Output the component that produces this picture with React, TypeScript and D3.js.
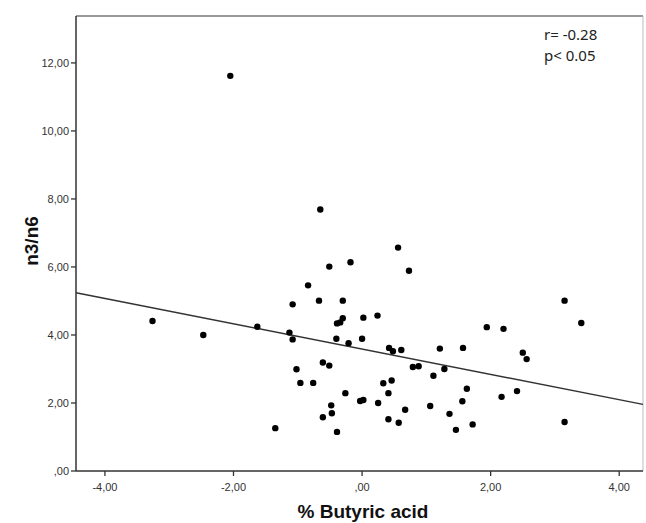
import React from "react";
import * as d3 from "d3";

const xValues = [
  -2.05, -3.26, -2.47, -1.63, -1.13, -1.08, -0.65, 0.56, 0.73, -0.18,
  -0.51, -0.84, -1.08, -0.67, -0.30, -0.30, 0.02, 0.24, -0.39, -0.34,
  -0.40, -0.21, 0.0, 0.42, 0.48, 0.61, 1.21, 1.57, 1.94, 2.20,
  2.50, 2.56, 3.15, 3.41, 3.15, -0.61, -0.51, -1.02, -0.96, -0.76,
  0.79, 0.88, 1.11, 1.28, 0.33, 0.46, -0.26, 0.41, 1.63, 2.41,
  -0.03, 0.02, 0.25, 1.56, 2.17, -0.48, -0.47, -0.61, 0.67, 1.06,
  0.41, 0.57, 1.36, -1.35, -0.39, 1.46, 1.72,
];
const yValues = [
  11.62, 4.41, 4.0, 4.24, 4.07, 3.87, 7.69, 6.57, 5.89, 6.14,
  6.01, 5.46, 4.90, 5.01, 5.01, 4.49, 4.51, 4.57, 4.34, 4.37,
  3.89, 3.76, 3.89, 3.62, 3.52, 3.56, 3.60, 3.62, 4.23, 4.18,
  3.48, 3.29, 5.01, 4.35, 1.44, 3.19, 3.10, 2.99, 2.59, 2.59,
  3.06, 3.08, 2.80, 3.0, 2.58, 2.66, 2.29, 2.29, 2.42, 2.35,
  2.06, 2.09, 2.0, 2.05, 2.18, 1.93, 1.70, 1.58, 1.80, 1.91,
  1.52, 1.42, 1.68, 1.26, 1.15, 1.21, 1.37,
];
const xTicks = [-4, -2, 0, 2, 4];
const yTicks = [0, 2, 4, 6, 8, 10, 12];
const fitIntercept = 3.585;
const fitSlope = -0.372;
const xDomain = [-4.45, 4.37];
const yDomain = [0, 13.38];
const annotation = ["r= -0.28", "p< 0.05"];

const fmt = (v: number) => {
  const s = Math.abs(v).toFixed(2).replace(".", ",");
  const body = s.startsWith("0") ? s.slice(1) : s;
  return (v < 0 ? "-" : "") + body;
};

export default function App() {
  const W = 646, H = 523;
  const left = 76, right = 643, top = 16, bottom = 471;
  const x = d3.scaleLinear().domain(xDomain).range([left, right]);
  const y = d3.scaleLinear().domain(yDomain).range([bottom, top]);
  const pts = xValues.map((v, i) => [v, yValues[i]]);
  const line = d3.line<number>()
    .x((d) => x(d))
    .y((d) => y(fitIntercept + fitSlope * d));
  const axisFont = "'Liberation Sans', Arial, sans-serif";
  return (
    <svg width={W} height={H} style={{ position: "absolute", left: 0, top: 0, background: "#fff" }}>
      <rect x={0} y={0} width={W} height={H} fill="#fff" />
      {/* frame */}
      <line x1={left} x2={right} y1={top} y2={top} stroke="#777" strokeWidth={1.5} />
      <line x1={right} x2={right} y1={top} y2={bottom} stroke="#bbb" strokeWidth={1} />
      <line x1={left} x2={left} y1={top} y2={bottom} stroke="#333" strokeWidth={1.5} />
      <line x1={left} x2={right} y1={bottom} y2={bottom} stroke="#333" strokeWidth={1.5} />
      {/* y ticks */}
      {yTicks.map((t) => (
        <g key={"y" + t}>
          <line x1={left - 5} x2={left} y1={y(t)} y2={y(t)} stroke="#333" strokeWidth={1.3} />
          <text x={left - 7} y={y(t)} dy="0.35em" textAnchor="end" fontSize={11} fill="#333" fontFamily={axisFont}>
            {fmt(t)}
          </text>
        </g>
      ))}
      {/* x ticks */}
      {xTicks.map((t) => (
        <g key={"x" + t}>
          <line x1={x(t)} x2={x(t)} y1={bottom} y2={bottom + 5} stroke="#333" strokeWidth={1.3} />
          <text x={x(t)} y={bottom + 20} textAnchor="middle" fontSize={11} fill="#333" fontFamily={axisFont}>
            {fmt(t)}
          </text>
        </g>
      ))}
      {/* fit line */}
      <path d={line([xDomain[0], xDomain[1]]) || ""} stroke="#333" strokeWidth={1.5} fill="none" />
      {/* points */}
      {pts.map((p, i) => (
        <circle key={i} cx={x(p[0])} cy={y(p[1])} r={3.2} fill="#000" />
      ))}
      {/* axis titles */}
      <text x={363} y={518} textAnchor="middle" fontSize={19} fontWeight="bold" fill="#111" fontFamily={axisFont}>
        % Butyric acid
      </text>
      <text transform={`translate(38, 241) rotate(-90)`} textAnchor="middle" fontSize={19} fontWeight="bold" fill="#111" fontFamily={axisFont}>
        n3/n6
      </text>
      {/* annotation */}
      {annotation.map((s, i) => (
        <text key={s} x={544} y={40 + i * 21} fontSize={15} fill="#222" fontFamily="'Noto Sans', 'Open Sans', sans-serif">
          {s}
        </text>
      ))}
    </svg>
  );
}
